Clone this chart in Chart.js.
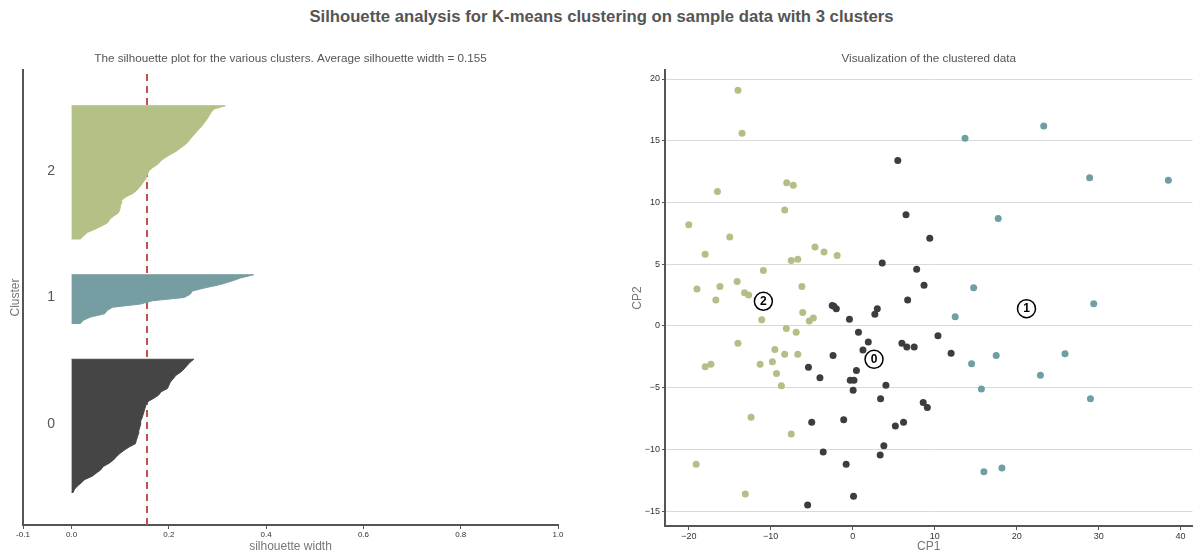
<!DOCTYPE html>
<html>
<head>
<meta charset="utf-8">
<script src="https://cdn.jsdelivr.net/npm/chart.js@4"></script>
<style>
  body { margin: 0; background: #fff; width: 1203px; height: 551px; overflow: hidden; position: relative; font-family: "Liberation Sans", Arial, sans-serif; }
  #titulo { position: absolute; top: 7px; left: 0; width: 1203px; text-align: center; font-weight: bold; font-size: 16.7px; color: #555; }
  #esq { position: absolute; left: 0; top: 0; }
  #dir { position: absolute; left: 600px; top: 0; }
</style>
</head>
<body>
<div id="titulo">Silhouette analysis for K-means clustering on sample data with 3 clusters</div>
<canvas id="esq" width="600" height="551" style="width:600px;height:551px"></canvas>
<canvas id="dir" width="603" height="551" style="width:603px;height:551px"></canvas>
<script>
// silhouette values per cluster, sorted ascending (bottom -> top)
const silCluster0 = [0.003, 0.006, 0.012, 0.020, 0.027, 0.042, 0.051, 0.060, 0.065, 0.077, 0.086, 0.092, 0.099, 0.108,
  0.118, 0.131, 0.133, 0.135, 0.137, 0.138, 0.140, 0.142, 0.142, 0.145, 0.147, 0.149, 0.151, 0.153, 0.157, 0.169,
  0.179, 0.184, 0.197, 0.200, 0.203, 0.209, 0.214, 0.224, 0.231, 0.237, 0.243, 0.251];
const silCluster1 = [0.018, 0.024, 0.039, 0.068, 0.073, 0.084, 0.142, 0.166, 0.231, 0.244, 0.248, 0.275, 0.306, 0.328, 0.347, 0.374];
const silCluster2 = [0.018, 0.025, 0.032, 0.048, 0.062, 0.074, 0.078, 0.086, 0.096, 0.099, 0.100, 0.102, 0.103, 0.112,
  0.126, 0.134, 0.140, 0.145, 0.150, 0.154, 0.156, 0.159, 0.167, 0.177, 0.183, 0.192, 0.203, 0.215, 0.224, 0.233,
  0.240, 0.245, 0.251, 0.257, 0.263, 0.269, 0.274, 0.279, 0.283, 0.287, 0.293, 0.316];
const avgSilhouette = 0.155;
const clusterNames = ['0', '1', '2'];
const silTicks = [-0.1, 0.0, 0.2, 0.4, 0.6, 0.8, 1.0];

// clustered data (CP1, CP2)
const pontos0 = [[5.5, 13.4], [6.5, 9.0], [9.4, 7.1], [3.6, 5.1], [7.8, 4.6], [8.7, 3.3], [6.7, 2.1], [-2.5, 1.65],
  [-2.3, 1.6], [-2.0, 1.4], [3.0, 1.4], [2.7, 0.95], [-0.4, 0.55], [0.7, -0.5], [10.4, -0.8], [1.9, -1.3], [6.0, -1.4],
  [6.6, -1.7], [7.5, -1.7], [1.25, -1.95], [12.0, -2.2], [-2.4, -2.4], [-5.4, -3.35], [0.45, -3.6], [-4.0, -4.2],
  [-0.3, -4.4], [0.15, -4.4], [4.05, -4.8], [0.05, -5.2], [3.4, -5.9], [8.6, -6.2], [9.1, -6.6], [-1.1, -7.6],
  [-5.0, -7.8], [6.2, -7.8], [5.2, -8.1], [3.8, -9.7], [-3.6, -10.2], [3.35, -10.45], [-0.8, -11.2], [0.1, -13.8], [-5.5, -14.5]];
const pontos1 = [[13.7, 15.2], [23.3, 16.2], [28.9, 12.0], [38.5, 11.8], [17.75, 8.7], [14.75, 3.1], [29.4, 1.8],
  [12.5, 0.75], [17.5, -2.4], [25.9, -2.25], [14.5, -3.05], [22.9, -4.0], [15.7, -5.1], [29.0, -5.9], [16.0, -11.8], [18.2, -11.5]];
const pontos2 = [[-20.0, 8.2], [-14.0, 19.1], [-13.5, 15.6], [-16.5, 10.9], [-18.0, 5.8], [-15.0, 7.2], [-8.05, 11.6],
  [-7.25, 11.4], [-8.3, 9.4], [-4.6, 6.4], [-3.5, 6.0], [-1.9, 5.7], [-7.5, 5.3], [-6.7, 5.4], [-10.9, 4.5], [-14.1, 3.6],
  [-16.2, 3.2], [-19.0, 3.0], [-16.7, 2.1], [-13.2, 2.7], [-12.7, 2.5], [-6.2, 3.2], [-11.1, 0.5], [-6.1, 1.1], [-5.3, 0.4],
  [-4.8, 0.65], [-8.1, -0.2], [-6.9, -0.5], [-14.0, -1.4], [-9.5, -1.9], [-8.3, -2.3], [-6.7, -2.3], [-9.8, -2.9],
  [-11.3, -3.1], [-17.3, -3.1], [-18.0, -3.3], [-9.3, -3.85], [-8.7, -4.85], [-12.4, -7.4], [-7.5, -8.75], [-19.1, -11.2], [-13.1, -13.6]];
const centrosX = [2.6, 21.2, -10.9];
const centrosY = [-2.7, 1.4, 2.0];
const cpXTicks = [-20, -10, 0, 10, 20, 30, 40];
const cpYTicks = [-15, -10, -5, 0, 5, 10, 15, 20];

const corVerde = '#b4c186', corAzul = '#769da1', corPreto = '#454545';
const fonte = '"Liberation Sans", Arial, sans-serif';

// build silhouette polygons the sklearn way (gap of 10 between clusters)
const silData = [silCluster0, silCluster1, silCluster2];
const cores = [corPreto, corAzul, corVerde];
let yLower = 10;
const poligonos = [];
const posLabels = [];
silData.forEach((vals, k) => {
  const pts = [{x: 0, y: yLower}];
  vals.forEach((v, i) => pts.push({x: v, y: yLower + i}));
  pts.push({x: 0, y: yLower + vals.length - 1});
  poligonos.push(pts);
  posLabels.push(yLower + 0.5 * vals.length);
  yLower += vals.length + 10;
});
const yMaxSil = yLower;

const subtitulo = {
  id: 'subtitulo',
  afterDraw(chart, args, opts) {
    const ctx = chart.ctx, a = chart.chartArea;
    ctx.save();
    ctx.fillStyle = '#555';
    ctx.font = '11.7px ' + fonte;
    ctx.textAlign = 'center';
    ctx.textBaseline = 'middle';
    ctx.fillText(opts.texto, (a.left + a.right) / 2, a.top - 11);
    ctx.restore();
  }
};

const rotulosCluster = {
  id: 'rotulosCluster',
  afterDatasetsDraw(chart) {
    const ctx = chart.ctx;
    ctx.save();
    ctx.fillStyle = '#555';
    ctx.font = '14px ' + fonte;
    ctx.textAlign = 'left';
    ctx.textBaseline = 'middle';
    clusterNames.forEach((n, k) => {
      ctx.fillText(n, chart.scales.x.getPixelForValue(-0.05), chart.scales.y.getPixelForValue(posLabels[k]));
    });
    ctx.restore();
  }
};

const rotulosCentro = {
  id: 'rotulosCentro',
  afterDatasetsDraw(chart) {
    const meta = chart.getDatasetMeta(3);
    const ctx = chart.ctx;
    ctx.save();
    ctx.fillStyle = '#000';
    ctx.font = 'bold 12px ' + fonte;
    ctx.textAlign = 'center';
    ctx.textBaseline = 'middle';
    meta.data.forEach((el, i) => ctx.fillText(clusterNames[i], el.x, el.y + 0.5));
    ctx.restore();
  }
};

new Chart(document.getElementById('esq'), {
  type: 'scatter',
  data: {
    datasets: [
      ...poligonos.map((pts, k) => ({
        data: pts, showLine: true, fill: 'shape', tension: 0,
        backgroundColor: cores[k], borderColor: cores[k], borderWidth: 1, pointRadius: 0
      })),
      {
        data: [{x: avgSilhouette, y: 0}, {x: avgSilhouette, y: yMaxSil}],
        showLine: true, fill: false, borderColor: '#c0504d', borderWidth: 2, borderDash: [7, 5], pointRadius: 0
      }
    ]
  },
  options: {
    responsive: false,
    animation: false,
    layout: { padding: { top: 70, left: 4, right: 42, bottom: 0 } },
    plugins: { legend: { display: false }, tooltip: { enabled: false }, subtitulo: { texto: 'The silhouette plot for the various clusters. Average silhouette width = 0.155' } },
    scales: {
      x: {
        type: 'linear', min: -0.1, max: 1.0,
        afterBuildTicks: s => { s.ticks = silTicks.map(v => ({value: v})); },
        afterFit: s => { s.height = 26; },
        ticks: { font: { size: 8, family: fonte }, color: '#333', padding: 1, maxRotation: 0, callback: v => v.toFixed(1) },
        grid: { drawOnChartArea: false, tickLength: 4, color: '#555' },
        border: { color: '#555', width: 2 },
        title: { display: true, text: 'silhouette width', color: '#777', font: { size: 12, family: fonte }, padding: { top: 0, bottom: -3 } }
      },
      y: {
        type: 'linear', min: 0, max: yMaxSil,
        afterFit: s => { s.width = 19; },
        ticks: { display: false },
        grid: { display: false },
        border: { color: '#555', width: 2 },
        title: { display: true, text: 'Cluster', color: '#777', font: { size: 12, family: fonte }, padding: { top: 4, bottom: 0 } }
      }
    }
  },
  plugins: [subtitulo, rotulosCluster]
});

const ponto = arr => arr.map(p => ({x: p[0], y: p[1]}));

new Chart(document.getElementById('dir'), {
  type: 'scatter',
  data: {
    datasets: [
      { data: ponto(pontos2), backgroundColor: '#b3bf86', borderWidth: 0, pointRadius: 3.5 },
      { data: ponto(pontos1), backgroundColor: '#6f9fa4', borderWidth: 0, pointRadius: 3.5 },
      { data: ponto(pontos0), backgroundColor: '#3d3d3d', borderWidth: 0, pointRadius: 3.5 },
      { data: centrosX.map((x, i) => ({x: x, y: centrosY[i]})), backgroundColor: '#fff', borderColor: '#000', borderWidth: 1.5, pointRadius: 9 }
    ]
  },
  options: {
    responsive: false,
    animation: false,
    layout: { padding: { top: 70, left: 26, right: 3, bottom: 0 } },
    plugins: { legend: { display: false }, tooltip: { enabled: false }, subtitulo: { texto: 'Visualization of the clustered data' } },
    scales: {
      x: {
        type: 'linear', min: -22.9, max: 41.45,
        afterBuildTicks: s => { s.ticks = cpXTicks.map(v => ({value: v})); },
        afterFit: s => { s.height = 25; },
        ticks: { font: { size: 9, family: fonte }, color: '#333', padding: 1, maxRotation: 0, callback: v => String(v).replace('-', '\u2212') },
        grid: { drawOnChartArea: false, tickLength: 4, color: '#555' },
        border: { color: '#555', width: 2 },
        title: { display: true, text: 'CP1', color: '#777', font: { size: 12, family: fonte }, padding: { top: 0, bottom: -3 } }
      },
      y: {
        type: 'linear', min: -16.2, max: 20.73,
        afterBuildTicks: s => { s.ticks = cpYTicks.map(v => ({value: v})); },
        afterFit: s => { s.width = 39; },
        ticks: { font: { size: 9, family: fonte }, color: '#333', padding: 2, callback: v => String(v).replace('-', '\u2212') },
        grid: { color: '#d9d9d9', lineWidth: 1, tickLength: 3, tickColor: '#555' },
        border: { color: '#555', width: 2 },
        title: { display: true, text: 'CP2', color: '#777', font: { size: 12, family: fonte }, padding: { top: 4, bottom: 0 } }
      }
    }
  },
  plugins: [subtitulo, rotulosCentro]
});
</script>
</body>
</html>
